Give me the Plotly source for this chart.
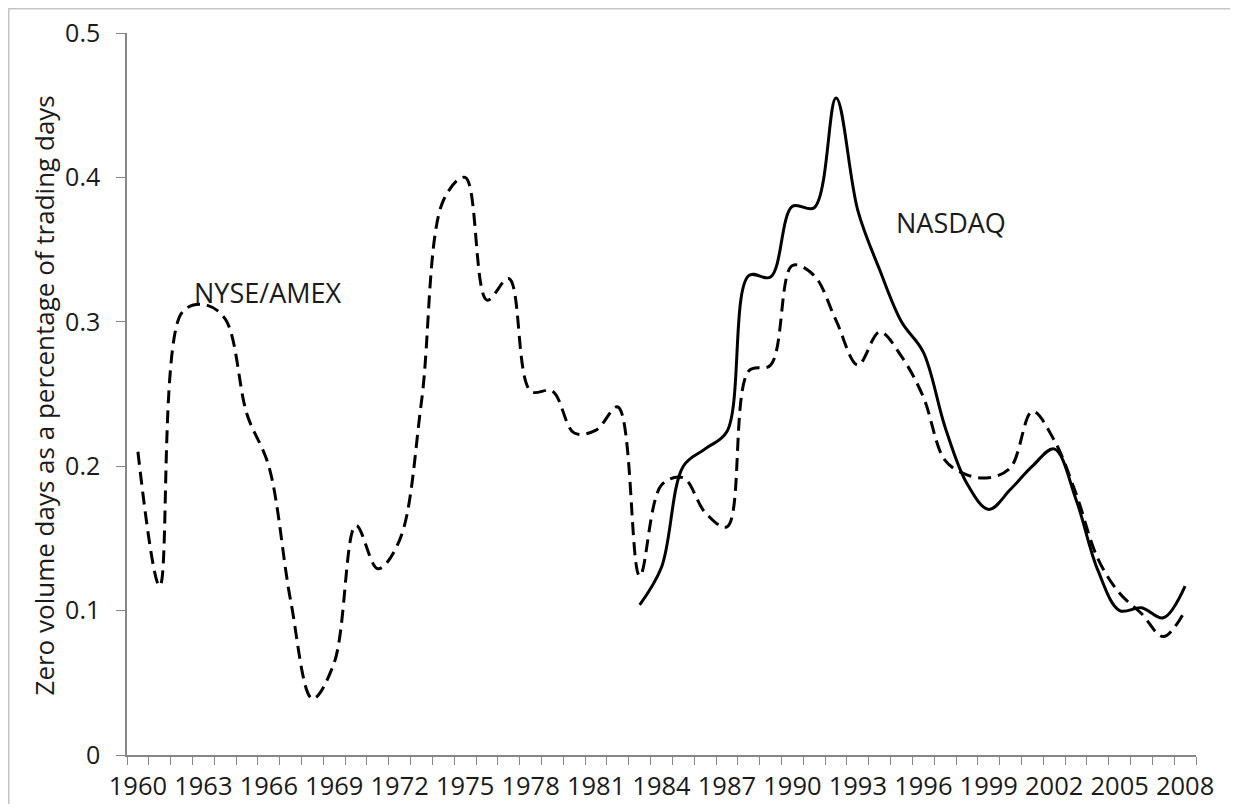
"""Zero-volume days: NYSE/AMEX vs NASDAQ, Excel-style smoothed lines."""

import plotly.graph_objects as go

years_nyse = list(range(1960, 2009))
nyse_amex = [
    0.210, 0.117, 0.306, 0.312, 0.302, 0.236, 0.200, 0.107, 0.039, 0.064,
    0.159, 0.129, 0.149, 0.245, 0.384, 0.400, 0.315, 0.330, 0.252, 0.252,
    0.223, 0.225, 0.241, 0.124, 0.187, 0.192, 0.168, 0.158, 0.266, 0.270,
    0.339, 0.332, 0.301, 0.270, 0.293, 0.276, 0.248, 0.204, 0.194, 0.192,
    0.199, 0.238, 0.218, 0.181, 0.136, 0.112, 0.098, 0.082, 0.100,
]

years_nasdaq = list(range(1983, 2009))
nasdaq = [
    0.104, 0.130, 0.200, 0.212, 0.224, 0.332, 0.331, 0.380, 0.379, 0.455,
    0.377, 0.336, 0.300, 0.279, 0.227, 0.188, 0.170, 0.184, 0.200, 0.212,
    0.177, 0.128, 0.100, 0.102, 0.095, 0.117,
]

tick_years = list(range(1960, 2009, 3))
y_ticks = [0, 0.1, 0.2, 0.3, 0.4, 0.5]
y_tick_text = ["0", "0.1", "0.2", "0.3", "0.4", "0.5"]

FONT = "'Open Sans', 'Noto Sans', sans-serif"
TEXT = "#1a1a1a"
AXIS_GREY = "#868686"

fig = go.Figure()
fig.add_trace(
    go.Scatter(
        x=years_nyse,
        y=nyse_amex,
        mode="lines",
        name="NYSE/AMEX",
        line={"color": "black", "width": 3, "dash": "13px,7px",
              "shape": "spline", "smoothing": 1},
    )
)
fig.add_trace(
    go.Scatter(
        x=years_nasdaq,
        y=nasdaq,
        mode="lines",
        name="NASDAQ",
        line={"color": "black", "width": 3, "shape": "spline", "smoothing": 1},
    )
)

# series labels sit inside the plot, as in the original
fig.add_annotation(x=1965.92, y=0.3206, text="NYSE/AMEX", showarrow=False,
                   font={"size": 27, "color": TEXT, "family": FONT})
fig.add_annotation(x=1997.27, y=0.369, text="NASDAQ", showarrow=False,
                   font={"size": 27, "color": TEXT, "family": FONT})

# rotated y title
fig.add_annotation(
    xref="paper", yref="paper", x=-0.0776, y=0.498,
    text="Zero volume days as a percentage of trading days",
    textangle=-90, showarrow=False, xanchor="center", yanchor="middle",
    font={"size": 26, "color": TEXT, "family": FONT},
)

# the page body keeps its 8px margin; keep the figure inside the window
W, H = 1230, 796
L, R, T, B = 119, 42, 25, 49
pw, ph = W - L - R, H - T - B


def px_x(p):
    return (p - L) / pw


def px_y(p):
    return (H - B - p) / ph


# light frame: left, top and right edges (bottom falls off the picture)
fx0, fx1 = px_x(0.75), px_x(1227)
fy0, fy1 = px_y(0.75), px_y(H + 20)
fig.add_shape(type="path", xref="paper", yref="paper",
              path=f"M {fx0} {fy1} L {fx0} {fy0} L {fx1} {fy0} L {fx1} {fy1}",
              line={"color": "#c4c4c4", "width": 1.5}, layer="below")

fig.update_layout(
    width=W,
    height=H,
    showlegend=False,
    plot_bgcolor="white",
    paper_bgcolor="white",
    margin={"l": L, "r": R, "t": T, "b": B, "autoexpand": False},
    font={"family": FONT, "color": TEXT},
    xaxis={
        "range": [1959.5, 2008.5],
        "tickvals": tick_years,
        "ticktext": [str(y) for y in tick_years],
        "ticks": "",
        "ticklabelstandoff": 8,
        "tickfont": {"size": 25.5},
        "automargin": False,
        "showgrid": False,
        "zeroline": False,
        "showline": True,
        "linecolor": AXIS_GREY,
        "linewidth": 1.5,
        "minor": {"tick0": 1959.5, "dtick": 1, "ticks": "outside",
                  "ticklen": 8, "tickcolor": AXIS_GREY, "tickwidth": 1.2,
                  "showgrid": False},
    },
    yaxis={
        "range": [0, 0.5],
        "tickvals": y_ticks,
        "ticktext": y_tick_text,
        "ticks": "outside",
        "ticklen": 9,
        "tickcolor": AXIS_GREY,
        "tickwidth": 1.2,
        "ticklabelstandoff": 11,
        "tickfont": {"size": 25},
        "automargin": False,
        "showgrid": False,
        "zeroline": False,
        "showline": True,
        "linecolor": AXIS_GREY,
        "linewidth": 1.5,
    },
)

fig.write_html("out.html")
